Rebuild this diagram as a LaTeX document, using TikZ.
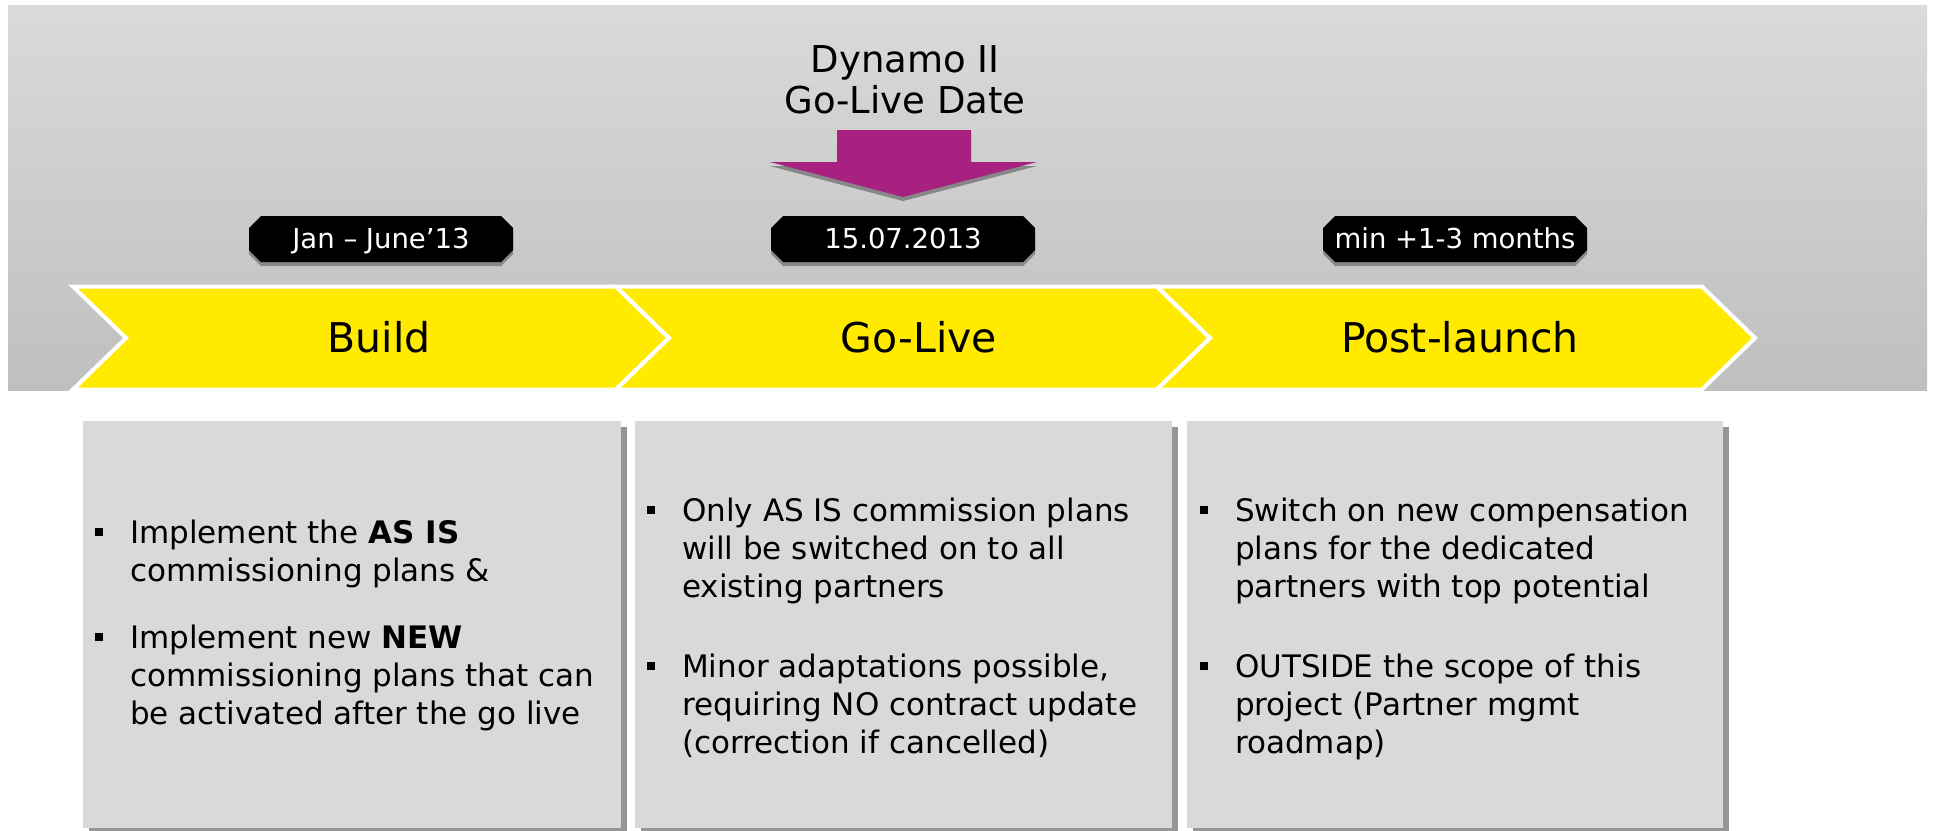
\documentclass[tikz,border=0pt]{standalone}
\usepackage{fontspec}
\setmainfont{DejaVu Sans}
\usetikzlibrary{calc}

\definecolor{bandtop}{RGB}{218,218,218}
\definecolor{bandbot}{RGB}{191,191,191}
\definecolor{phase}{RGB}{255,234,0}
\definecolor{golive}{RGB}{168,32,128}
\definecolor{panel}{RGB}{217,217,217}
\definecolor{shadowgray}{RGB}{135,135,135}
\definecolor{panelshade}{RGB}{150,150,150}

\begin{document}
\begin{tikzpicture}[x=1pt,y=-1pt,
  chev/.style={fill=phase, draw=white, line width=4pt, line join=miter},
  phaselabel/.style={font=\fontsize{41}{49}\selectfont, anchor=base, inner sep=0},
  taglabel/.style={font=\fontsize{27.5}{33}\selectfont, text=white, anchor=base, inner sep=0},
  headline/.style={font=\fontsize{37}{41}\selectfont, align=center, anchor=north, inner sep=0},
  bullets/.style={font=\fontsize{31}{38}\selectfont, align=left, anchor=north west, inner sep=0},
  panelbox/.style={fill=panel},
  panelshadow/.style={fill=panelshade},
]
\newcommand\bmark{\llap{\rule[7pt]{8pt}{8pt}\hspace{27pt}}\strut}

\useasboundingbox (0,0) rectangle (1933,830);
\fill[white] (0,0) rectangle (1933,830);

% timeline band
\shade[top color=bandtop, bottom color=bandbot] (8,5) rectangle (1927,390);

% phase chevrons
\foreach \l/\r in {73/616, 616/1157, 1157/1702}
  \filldraw[chev] (\l,286.5) -- (\r,286.5) -- (\r+53,338) -- (\r,389.5) -- (\l,389.5) -- (\l+53,338) -- cycle;

\node[phaselabel] (build) at (379,352) {Build};
\node[phaselabel] (live)  at (919,352) {Go-Live};
\node[phaselabel] (post)  at (1460,352) {Post-launch};

% date tags
\foreach \n/\cx/\txt in {tagA/381/{Jan – June’13}, tagB/903/{15.07.2013}, tagC/1455/{min +1-3 months}} {
  \fill[shadowgray] (\cx-132,232) -- (\cx-120,220) -- (\cx+120,220) -- (\cx+132,232)
     -- (\cx+132,254) -- (\cx+120,266) -- (\cx-120,266) -- (\cx-132,254) -- cycle;
  \fill[black] (\cx-132,228) -- (\cx-120,216) -- (\cx+120,216) -- (\cx+132,228)
     -- (\cx+132,250) -- (\cx+120,262) -- (\cx-120,262) -- (\cx-132,250) -- cycle;
  \node[taglabel] (\n) at (\cx,248) {\txt};
}

% go-live marker
\node[headline] (title) at (905,43.3) {\strut Dynamo II\\Go-Live Date};
\fill[shadowgray] (837,134) -- (971,134) -- (971,166) -- (1037,166) -- (903,201)
   -- (770,166) -- (837,166) -- cycle;
\fill[golive] (837,130) -- (971,130) -- (971,162) -- (1037,162) -- (903,197)
   -- (770,162) -- (837,162) -- cycle;

% detail panels
\foreach \l/\r in {83/621, 635/1172, 1187/1723} {
  \fill[panelshadow] (\l+6,427) rectangle (\r+6,834);
  \fill[panelbox] (\l,421) rectangle (\r,828);
}

\node[bullets] (a1) at (130,516.4) {\bmark Implement the \textbf{AS IS}\\commissioning plans \&};
\node[bullets] (a2) at (130,621.4) {\bmark Implement new \textbf{NEW}\\commissioning plans that can\\be activated after the go live};

\node[bullets] (b1) at (682,494.4) {\bmark Only AS IS commission plans\\will be switched on to all\\existing partners};
\node[bullets] (b2) at (682,650.4) {\bmark Minor adaptations possible,\\requiring NO contract update\\(correction if cancelled)};

\node[bullets] (c1) at (1235,494.4) {\bmark Switch on new compensation\\plans for the dedicated\\partners with top potential};
\node[bullets] (c2) at (1235,650.4) {\bmark OUTSIDE the scope of this\\project (Partner mgmt\\roadmap)};
\end{tikzpicture}
\end{document}
